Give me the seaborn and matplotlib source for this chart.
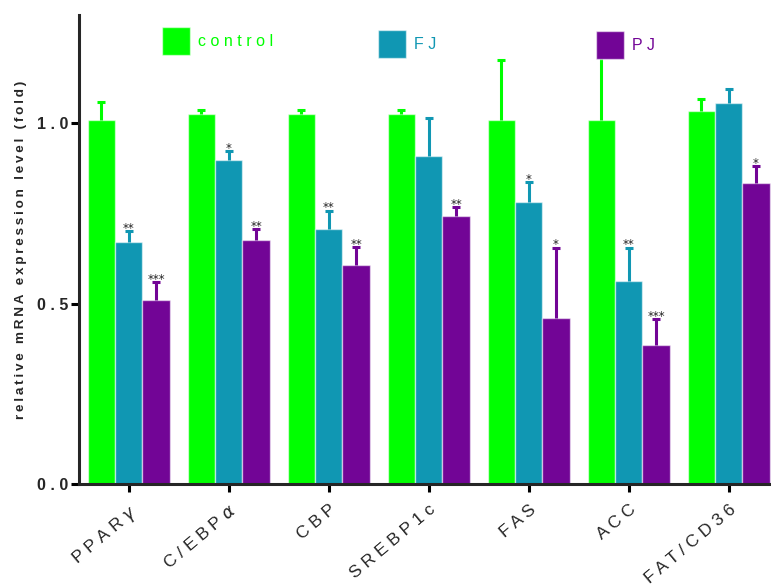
import matplotlib
matplotlib.use("Agg")
import matplotlib.pyplot as plt
from matplotlib.patches import Patch
import numpy as np
import pandas as pd
import seaborn as sns

# Relative mRNA expression (fold of control), mean and upper SD
genes = ["PPAR$\\gamma$", "C/EBP$\\alpha$", "CBP", "SREBP1c", "FAS", "ACC", "FAT/CD36"]
groups = ["control", "FJ", "PJ"]

control = [1.010, 1.025, 1.025, 1.025, 1.010, 1.010, 1.035]
control_err = [0.050, 0.013, 0.012, 0.012, 0.165, 0.180, 0.033]
fj = [0.672, 0.897, 0.708, 0.908, 0.782, 0.563, 1.057]
fj_err = [0.028, 0.025, 0.050, 0.107, 0.055, 0.092, 0.037]
pj = [0.509, 0.676, 0.608, 0.742, 0.461, 0.385, 0.833]
pj_err = [0.050, 0.031, 0.049, 0.025, 0.194, 0.071, 0.048]

fj_sig = ["**", "*", "**", "", "*", "**", ""]
pj_sig = ["***", "**", "**", "**", "*", "***", "*"]

yticks = [0.0, 0.5, 1.0]

colors = {"control": "#00FF00", "FJ": "#1097B3", "PJ": "#720596"}
edge = (1, 1, 1, 0.55)

sns.set_style("ticks")
plt.rcParams["font.family"] = ["Liberation Sans", "DejaVu Sans"]
plt.rcParams["mathtext.fontset"] = "dejavusans"


def spaced(s, sep=" "):
    # widen letter spacing, keeping mathtext tokens intact
    out, i = [], 0
    while i < len(s):
        if s[i] == "$":
            j = s.index("$", i + 1)
            out.append(s[i:j + 1])
            i = j + 1
        else:
            out.append(s[i])
            i += 1
    return sep.join(out)


values = {"control": control, "FJ": fj, "PJ": pj}
errors = {"control": control_err, "FJ": fj_err, "PJ": pj_err}
sigs = {"FJ": fj_sig, "PJ": pj_sig}

df = pd.DataFrame(
    [(g, grp, values[grp][i]) for grp in groups for i, g in enumerate(genes)],
    columns=["gene", "group", "value"],
)

fig = plt.figure(figsize=(7.71, 5.88), dpi=100)
W, H = 771, 588
ax = fig.add_axes([79 / W, 104 / H, 1 - 79 / W, (484 - 15) / H])

sns.barplot(
    data=df, x="gene", y="value", hue="group", order=genes, hue_order=groups,
    palette=colors, errorbar=None, width=0.82, edgecolor=edge, linewidth=1.0,
    saturation=1, legend=False, ax=ax,
)

for grp, cont in zip(groups, ax.containers):
    xs = np.array([p.get_x() + p.get_width() / 2 for p in cont.patches])
    ys = np.array(values[grp])
    err = np.array(errors[grp])
    eb = ax.errorbar(
        xs, ys, yerr=[np.zeros_like(err), err], fmt="none", ecolor=colors[grp],
        elinewidth=2.2, capsize=3.0, capthick=2.2, zorder=3,
    )
    # one-sided bars: hide the cap sitting on the bar top
    eb[1][0].set_visible(False)
    if grp in sigs:
        for x, y, e, s in zip(xs, ys, err, sigs[grp]):
            if s:
                ax.text(x, y + e - 0.010, s, ha="center", va="bottom",
                        fontsize=8.5, color="#222222", zorder=4,
                        family=["DejaVu Sans"])

ax.set_xlim(-0.497, 6.423)
ax.set_ylim(0, 1.3)
ax.set_yticks(yticks)
ax.set_yticklabels([spaced(f"{t:.1f}") for t in yticks], fontsize=11.5,
                   fontweight="bold")
ax.set_xticks(range(len(genes)))
ax.set_xticklabels([spaced(g) for g in genes], rotation=40, ha="right",
                   rotation_mode="anchor", fontsize=12.5)
ax.set_xlabel("")
ax.set_ylabel(spaced("relative mRNA expression level (fold)", "\u2009"),
              fontsize=9.7, fontweight="bold", labelpad=7)

for side in ("top", "right"):
    ax.spines[side].set_visible(False)
for side in ("left", "bottom"):
    ax.spines[side].set_linewidth(2.2)
ax.tick_params(axis="both", width=2.2, length=6, color="black")
ax.tick_params(axis="x", pad=7)
ax.tick_params(axis="y", pad=2)

# separate legend entries spread across the top
legend_pos = {"control": (162, 41), "FJ": (378, 44), "PJ": (596, 45)}
for grp in groups:
    x0, yc = legend_pos[grp]
    h = Patch(facecolor=colors[grp], edgecolor=edge, linewidth=1.0)
    fig.legend(
        handles=[h], labels=[spaced(grp)], loc="center left",
        bbox_to_anchor=(x0 / W, 1 - yc / H), frameon=False, fontsize=11.5,
        handlelength=1.75, handleheight=2.4, handletextpad=0.5,
        borderpad=0, borderaxespad=0, labelcolor=colors[grp],
    )

fig.savefig("out.png", dpi=100)
